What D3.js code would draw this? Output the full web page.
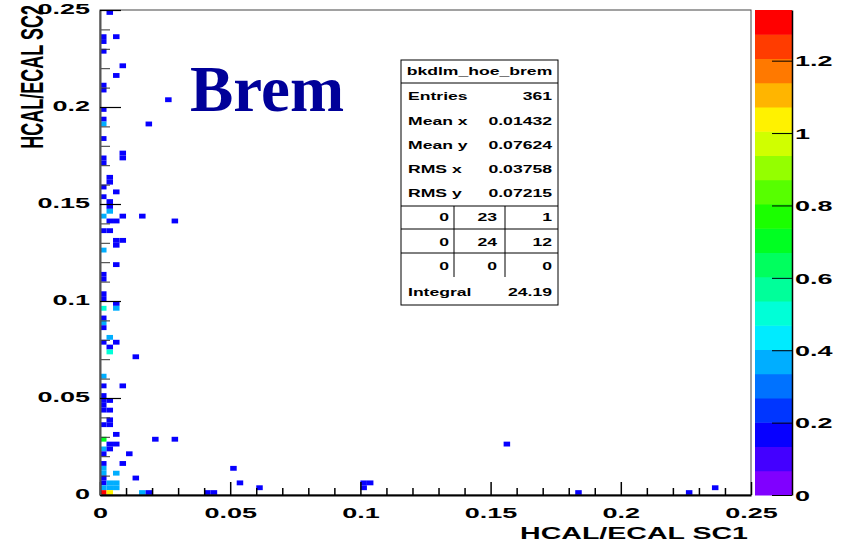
<!DOCTYPE html>
<html>
<head>
<meta charset="utf-8">
<script src="https://cdn.jsdelivr.net/npm/d3@7"></script>
<style>
  html, body { margin: 0; padding: 0; background: #fff; }
  svg { display: block; }
  text { font-family: "Liberation Sans", Arial, sans-serif; font-weight: bold; }
  text.serif-label { font-family: "Liberation Serif", "Times New Roman", serif; }
</style>
</head>
<body>
<svg id="chart" width="842" height="545"></svg>
<script>
// ---- histogram binning ----
const binWidth = 0.0025;           // 100 x 100 bins over [0, 0.25]
const xRangeMax = 0.25;
const yRangeMax = 0.25;

// ---- filled bins: column index, row index, bin content ----
const cellCol = [
  1,
  0, 0, 2,
  0,
  3,
  2,
  0, 0,
  10,
  0,
  0, 0, 7,
  0,
  3, 3,
  0, 0,
  1, 1,
  0,
  2,
  0,
  1, 1,
  1,
  0, 3, 6,
  1, 2, 11,
  0, 1,
  2, 3,
  2,
  0,
  2,
  0, 0,
  0, 0,
  2,
  0, 2,
  0,
  0,
  0,
  1,
  0, 2,
  1,
  1,
  5,
  0,
  0, 3,
  0,
  0, 1,
  0,
  0, 1,
  1, 1, 0,
  2,
  0, 8, 11,
  1, 2,
  0, 1,
  0, 4,
  0, 3,
  0,
  0, 2,
  0, 5,
  0, 1, 2,
  0, 1, 2,
  0, 1, 6, 7, 16, 17,
  20, 21, 24, 40, 41, 40, 62, 73, 90, 94
];
const cellRow = [
  99,
  93, 94, 94,
  91,
  88,
  86,
  83, 84,
  81,
  79,
  77, 76, 76,
  73,
  69, 70,
  68, 69,
  64, 65,
  63,
  62,
  61,
  59, 60,
  58,
  57, 57, 57,
  56, 56, 56,
  54, 54,
  52, 52,
  51,
  50,
  47,
  44, 45,
  40, 41,
  39,
  38, 38,
  36,
  35,
  34,
  32,
  31, 31,
  30,
  29,
  28,
  24,
  22, 22,
  20,
  19, 19,
  18,
  17, 17,
  15, 14, 14,
  12,
  11, 11, 11,
  10, 10,
  9, 9,
  8, 8,
  6, 6,
  5,
  4, 4,
  3, 3,
  2, 2, 2,
  1, 1, 1,
  0, 0, 0, 0, 0, 0,
  5, 2, 1, 2, 2, 1, 10, 0, 0, 1
];
const cellZ = [
  0.17,
  0.17, 0.17, 0.17,
  0.17,
  0.17,
  0.17,
  0.17, 0.17,
  0.17,
  0.17,
  0.17, 0.37, 0.17,
  0.17,
  0.17, 0.17,
  0.17, 0.17,
  0.17, 0.17,
  0.17,
  0.17,
  0.17,
  0.17, 0.17,
  0.37,
  0.37, 0.17, 0.17,
  0.17, 0.17, 0.17,
  0.17, 0.17,
  0.17, 0.17,
  0.17,
  0.37,
  0.17,
  0.17, 0.17,
  0.17, 0.17,
  0.17,
  0.50, 0.37,
  0.17,
  0.37,
  0.17,
  0.37,
  0.17, 0.17,
  0.17,
  0.50,
  0.17,
  0.37,
  0.17, 0.17,
  0.17,
  0.17, 0.17,
  0.17,
  0.17, 0.17,
  0.17, 0.17, 0.17,
  0.17,
  0.70, 0.17, 0.17,
  0.17, 0.17,
  0.37, 0.17,
  0.17, 0.17,
  0.17, 0.17,
  0.37,
  0.37, 0.37,
  0.17, 0.17,
  0.17, 0.37, 0.37,
  0.37, 0.37, 0.37,
  1.34, 1.03, 0.37, 0.17, 0.17, 0.17,
  0.17, 0.17, 0.17, 0.17, 0.17, 0.17, 0.17, 0.17, 0.17, 0.17
];

// ---- axes ----
const xMajorTicks = [0, 0.05, 0.1, 0.15, 0.2, 0.25];
const xTickLabels = ["0", "0.05", "0.1", "0.15", "0.2", "0.25"];
const yMajorTicks = [0, 0.05, 0.1, 0.15, 0.2, 0.25];
const yTickLabels = ["0", "0.05", "0.1", "0.15", "0.2", "0.25"];
const zTicks = [0, 0.2, 0.4, 0.6, 0.8, 1, 1.2];
const zTickLabels = ["0", "0.2", "0.4", "0.6", "0.8", "1", "1.2"];
const xTitle = "HCAL/ECAL SC1";
const yTitle = "HCAL/ECAL SC2";
const plotLabel = "Brem";
const nContours = 20;

// ---- statistics box ----
const statsName = "bkdlm_hoe_brem";
const statsLabels = ["Entries", "Mean x", "Mean y", "RMS x", "RMS y"];
const statsValues = ["361", "0.01432", "0.07624", "0.03758", "0.07215"];
const overflowGrid = [[0, 23, 1], [0, 24, 12], [0, 0, 0]];
const integralLabel = "Integral";
const integralValue = "24.19";

// ================= drawing =================
const svg = d3.select("#chart");
const frame = { left: 100, right: 751, top: 10, bottom: 495 };
const pal = { left: 755, right: 792 };
const stretch = 1.8;   // wide lettering of the canvas fonts

const x = d3.scaleLinear().domain([0, xRangeMax]).range([frame.left, frame.right]);
const y = d3.scaleLinear().domain([0, yRangeMax]).range([frame.bottom, frame.top]);

const zMax = d3.max(cellZ);
const z = d3.scaleLinear().domain([0, zMax]).range([frame.bottom, frame.top]);

// rainbow palette, violet -> red
const paletteColors = d3.range(nContours).map(i =>
  d3.hsl(270 - i * 270 / (nContours - 1), 1, 0.5).formatHex());
const colorOf = d3.scaleQuantize().domain([0, zMax]).range(paletteColors);

svg.append("rect").attr("width", 842).attr("height", 545).attr("fill", "#fff");

// bins
const cells = cellCol.map((c, i) => ({ c, r: cellRow[i], v: cellZ[i] }));
svg.append("g").selectAll("rect").data(cells).join("rect")
  .attr("x", d => x(d.c * binWidth))
  .attr("y", d => y((d.r + 1) * binWidth))
  .attr("width", d => x((d.c + 1) * binWidth) - x(d.c * binWidth))
  .attr("height", d => y(d.r * binWidth) - y((d.r + 1) * binWidth))
  .attr("fill", d => colorOf(Math.min(d.v, zMax * 0.9999)));

// frame
svg.append("rect")
  .attr("x", frame.left).attr("y", frame.top)
  .attr("width", frame.right - frame.left).attr("height", frame.bottom - frame.top)
  .attr("fill", "none").attr("stroke", "#444").attr("stroke-width", 1);

// x axis: minor ticks every 0.01, majors every 0.05
const xMinor = d3.range(0, 26).map(k => k * 0.01).filter(v => !xMajorTicks.some(m => Math.abs(m - v) < 1e-9));
svg.append("g").attr("transform", `translate(0,${frame.bottom})`)
  .call(d3.axisBottom(x).tickValues(xMinor).tickSizeInner(-7).tickSizeOuter(0).tickFormat(""))
  .call(g => g.select(".domain").remove())
  .call(g => g.selectAll("line").attr("stroke", "#000").attr("stroke-width", 1.5));
const xAxis = svg.append("g").attr("transform", `translate(0,${frame.bottom})`)
  .call(d3.axisBottom(x).tickValues(xMajorTicks).tickSizeInner(-13).tickSizeOuter(0)
    .tickFormat((d, i) => xTickLabels[i]));
xAxis.select(".domain").attr("stroke", "#000").attr("stroke-width", 2);
xAxis.selectAll("line").attr("stroke", "#000").attr("stroke-width", 1.5);
xAxis.selectAll("text")
  .attr("y", 0).attr("dy", null)
  .attr("transform", `translate(0,23) scale(${stretch},1)`)
  .attr("font-size", 15).attr("fill", "#000");

// y axis
const yMinor = d3.range(0, 26).map(k => k * 0.01).filter(v => !yMajorTicks.some(m => Math.abs(m - v) < 1e-9));
svg.append("g").attr("transform", `translate(${frame.left},0)`)
  .call(d3.axisLeft(y).tickValues(yMinor).tickSizeInner(-10).tickSizeOuter(0).tickFormat(""))
  .call(g => g.select(".domain").remove())
  .call(g => g.selectAll("line").attr("stroke", "#333").attr("stroke-width", 1));
const yAxis = svg.append("g").attr("transform", `translate(${frame.left},0)`)
  .call(d3.axisLeft(y).tickValues(yMajorTicks).tickSizeInner(-21).tickSizeOuter(0)
    .tickFormat((d, i) => yTickLabels[i]));
yAxis.select(".domain").attr("stroke", "#555").attr("stroke-width", 2);
yAxis.selectAll("line").attr("stroke", "#000").attr("stroke-width", 1.2);
yAxis.selectAll("text")
  .attr("x", 0).attr("dy", "0.32em")
  .attr("text-anchor", "end")
  .attr("transform", `translate(-10,-1) scale(${stretch},1)`)
  .attr("font-size", 15).attr("fill", "#000");

// axis titles
svg.append("text")
  .attr("transform", `translate(748,539) scale(1.68,1)`)
  .attr("text-anchor", "end").attr("font-size", 17).attr("fill", "#000")
  .text(xTitle);
svg.append("text")
  .attr("transform", `translate(42.5,5) scale(1.7,1) rotate(-90)`)
  .attr("text-anchor", "end").attr("font-size", 18).attr("fill", "#000")
  .text(yTitle);

// colour palette
const bandH = zMax / nContours;
svg.append("g").selectAll("rect").data(paletteColors).join("rect")
  .attr("x", pal.left)
  .attr("y", (d, i) => z((i + 1) * bandH))
  .attr("width", pal.right - pal.left)
  .attr("height", (d, i) => z(i * bandH) - z((i + 1) * bandH) + 0.5)
  .attr("fill", d => d);
const zAxis = svg.append("g").attr("transform", `translate(${pal.right},0)`)
  .call(d3.axisRight(z).tickValues(zTicks).tickSizeInner(-20).tickSizeOuter(0)
    .tickFormat((d, i) => zTickLabels[i]));
zAxis.select(".domain").attr("stroke", "#000").attr("stroke-width", 1.5);
zAxis.selectAll("line").attr("stroke", "#000").attr("stroke-width", 1);
zAxis.selectAll("text")
  .attr("x", 0).attr("dy", "0.35em").attr("text-anchor", "start")
  .attr("transform", `translate(3,0) scale(${stretch},1)`)
  .attr("font-size", 15).attr("fill", "#000");

// label inside the frame
svg.append("text")
  .attr("class", "serif-label")
  .attr("x", 190).attr("y", 111)
  .attr("font-size", 65).attr("fill", "#000099")
  .text(plotLabel);

// statistics box
const sb = { left: 401, right: 558, top: 60, bottom: 305 };
const sFont = 11, sStretch = 1.6;
const textL = sb.left + 7, textR = sb.right - 6;
const stats = svg.append("g");
stats.append("rect")
  .attr("x", sb.left).attr("y", sb.top)
  .attr("width", sb.right - sb.left).attr("height", sb.bottom - sb.top)
  .attr("fill", "#fff").attr("stroke", "#000").attr("stroke-width", 1);
function stxt(px, py, anchor, s) {
  stats.append("text")
    .attr("transform", `translate(${px},${py}) scale(${sStretch},1)`)
    .attr("text-anchor", anchor).attr("font-size", sFont).attr("fill", "#000")
    .text(s);
}
function sline(x1, y1, x2, y2) {
  stats.append("line").attr("x1", x1).attr("y1", y1).attr("x2", x2).attr("y2", y2)
    .attr("stroke", "#000").attr("stroke-width", 1);
}
stxt((sb.left + sb.right) / 2, 75, "middle", statsName);
sline(sb.left, 83, sb.right, 83);
const rowY = [100, 124.5, 148.5, 172.5, 197];
statsLabels.forEach((lab, i) => {
  stxt(textL, rowY[i], "start", lab);
  stxt(textR, rowY[i], "end", statsValues[i]);
});
const gridTop = 206, gridLines = [229, 253], gridBottom = 277;
const colR = [449, 497, textR];
sline(sb.left, gridTop, sb.right, gridTop);
gridLines.forEach(gy => sline(sb.left, gy, sb.right, gy));
sline(454, gridTop, 454, gridBottom);
sline(505, gridTop, 505, gridBottom);
const gridY = [221, 245.5, 269.5];
overflowGrid.forEach((row, r) => row.forEach((v, c) => stxt(colR[c], gridY[r], "end", String(v))));
stxt(textL, 296, "start", integralLabel);
stxt(textR, 296, "end", integralValue);
</script>
</body>
</html>
